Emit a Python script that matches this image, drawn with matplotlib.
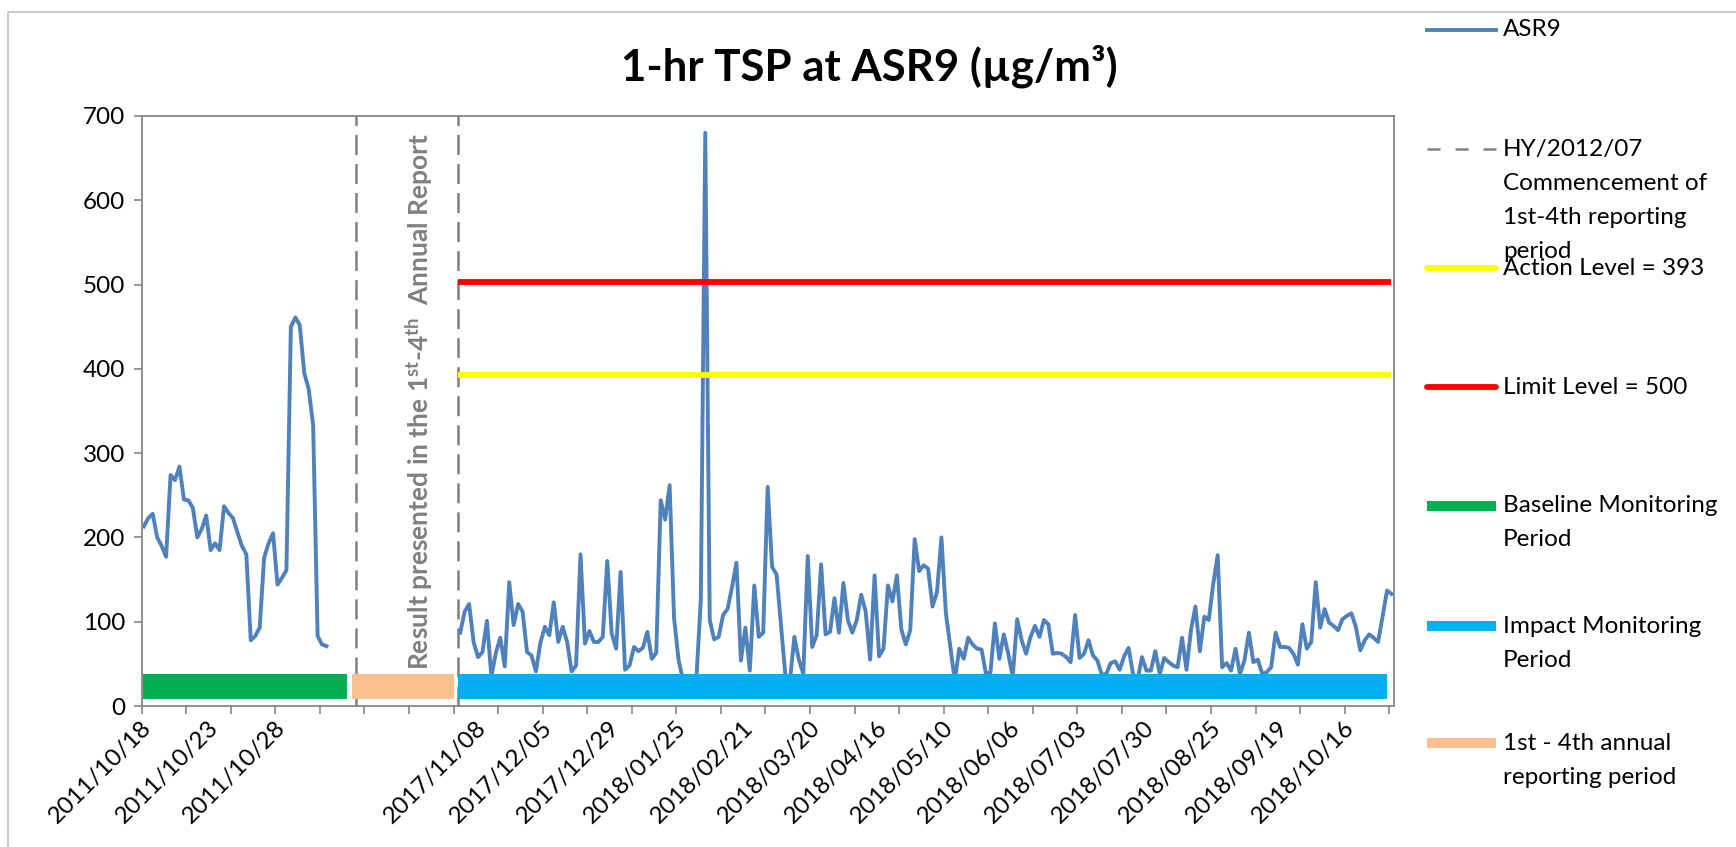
import matplotlib
matplotlib.use('Agg')
import matplotlib.pyplot as plt
from matplotlib.lines import Line2D

plt.rcParams['font.family'] = ['Lato', 'DejaVu Sans']
plt.rcParams['mathtext.fontset'] = 'custom'
plt.rcParams['mathtext.rm'] = 'Lato'
plt.rcParams['mathtext.bf'] = 'Lato:bold'
plt.rcParams['mathtext.it'] = 'Lato:italic'
plt.rcParams['lines.scale_dashes'] = False

# ---------------- data ----------------
baseline_values = [213, 223, 228, 200, 190, 177, 274, 268, 284, 245,
                   244, 235, 200, 210, 226, 185, 193, 185, 237, 229,
                   223, 206, 190, 180, 78, 83, 93, 176, 193, 205,
                   144, 152, 161, 450, 461, 452, 395, 376, 333, 83,
                   73, 71]
baseline_start = 0

impact_values = [87, 112, 121, 76, 58, 64, 101, 35, 63, 81,
                 47, 147, 96, 121, 112, 64, 60, 41, 75, 94,
                 84, 123, 76, 94, 76, 41, 48, 180, 74, 89,
                 76, 76, 82, 172, 86, 68, 159, 43, 48, 70,
                 65, 69, 88, 56, 63, 244, 221, 262, 104, 55,
                 30, 25, 28, 32, 126, 680, 102, 79, 82, 108,
                 115, 141, 170, 54, 93, 42, 143, 82, 87, 260,
                 165, 156, 95, 35, 30, 82, 55, 38, 178, 70,
                 84, 168, 85, 88, 128, 87, 146, 102, 87, 102,
                 132, 112, 55, 155, 59, 68, 143, 124, 155, 91,
                 73, 90, 198, 160, 167, 163, 118, 135, 200, 110,
                 70, 30, 68, 56, 81, 73, 68, 67, 38, 40,
                 98, 56, 85, 62, 35, 103, 78, 62, 82, 95,
                 82, 102, 97, 62, 63, 62, 58, 52, 108, 57,
                 62, 78, 60, 54, 37, 38, 51, 53, 43, 59,
                 69, 38, 30, 58, 42, 42, 65, 38, 57, 52,
                 48, 46, 81, 43, 90, 118, 65, 106, 102, 145,
                 179, 46, 51, 42, 68, 38, 54, 87, 52, 55,
                 38, 40, 46, 87, 70, 70, 69, 62, 49, 97,
                 68, 76, 147, 93, 115, 99, 95, 90, 103, 107,
                 110, 94, 66, 78, 85, 81, 76, 106, 137, 133]
impact_start = 71
n_categories = 281

tick_labels = ["2011/10/18", "2011/10/23", "2011/10/28", "", "",
               "2017/11/08", "2017/12/05", "2017/12/29", "2018/01/25",
               "2018/02/21", "2018/03/20", "2018/04/16", "2018/05/10",
               "2018/06/06", "2018/07/03", "2018/07/30", "2018/08/25",
               "2018/09/19", "2018/10/16"]
label_step = 15
tick_step = 10

action_level = 393
limit_level = 503
level_start = 70.6
level_end = 280.0

divider_positions = [47.6, 70.6]

period_names = ["Baseline Monitoring\nPeriod", "1st - 4th annual\nreporting period",
                "Impact Monitoring\nPeriod"]
period_start = [-0.1, 46.7, 70.6]
period_end = [45.6, 69.6, 278.9]
period_colors = ["#00b050", "#fac090", "#00b0f0"]
period_low, period_high = 8, 38

legend_labels = ["ASR9",
                 "HY/2012/07\nCommencement of\n1st-4th reporting\nperiod",
                 "Action Level = 393",
                 "Limit Level = 500",
                 "Baseline Monitoring\nPeriod",
                 "Impact Monitoring\nPeriod",
                 "1st - 4th annual\nreporting period"]

# ---------------- figure ----------------
W, H = 1736, 847
fig = plt.figure(figsize=(W / 100, H / 100), dpi=100)
x0, x1, ytop, ybot = 141.6, 1393.7, 116, 706
ax = fig.add_axes([x0 / W, (H - ybot) / H, (x1 - x0) / W, (ybot - ytop) / H])
ax.set_xlim(-0.5, n_categories - 0.5)
ax.set_ylim(0, 700)

line_color = "#4f81bd"
ax.plot(range(baseline_start, baseline_start + len(baseline_values)), baseline_values,
        color=line_color, lw=2.8, solid_joinstyle='round', zorder=2)
ax.plot(range(impact_start, impact_start + len(impact_values)), impact_values,
        color=line_color, lw=2.8, solid_joinstyle='round', zorder=2)

for xd in divider_positions:
    ax.axvline(xd, color="#808080", lw=1.8, dashes=(14.4, 6.5), zorder=1)

ax.hlines(action_level, level_start, level_end, color="#ffff00", lw=4.2, zorder=3)
ax.hlines(limit_level, level_start, level_end, color="#ff0000", lw=4.2, zorder=3)

for s, e, c in zip(period_start, period_end, period_colors):
    ax.broken_barh([(s, e - s)], (period_low, period_high - period_low),
                   facecolor=c, edgecolor='none', zorder=4)

ax.text(61.9, 43, r"Result presented in the 1$^{\mathbf{st}}$-4$^{\mathbf{th}}$  Annual Report",
        rotation=90, rotation_mode='anchor', ha='left', va='center',
        color="#808080", fontsize=19, fontweight='bold', zorder=5)

# axes styling
fs = 17.5
spine_c = "#868686"
for sp in ax.spines.values():
    sp.set_color(spine_c)
    sp.set_linewidth(1.3)
ax.set_yticks(range(0, 701, 100))
ax.tick_params(axis='y', direction='out', length=5.8, width=1.2, color=spine_c,
               labelsize=fs, pad=6)
ax.set_xticks([-0.5 + tick_step * k for k in range(n_categories // tick_step + 1)])
ax.set_xticklabels([])
ax.tick_params(axis='x', direction='out', length=5.8, width=1.2, color=spine_c)
for i, lab in enumerate(tick_labels):
    ax.annotate(lab, xy=(i * label_step, 0), xycoords=ax.get_xaxis_transform(),
                xytext=(-3, -11), textcoords='offset pixels', rotation=45,
                rotation_mode='anchor', ha='right', va='top', fontsize=fs)

# title
fig.text(869 / W, 1 - 66 / H, "1-hr TSP at ASR9 (µg/m³)", ha='center', va='center',
         fontsize=31.5, fontweight='bold')

# legend (manual)
handle_styles = [
    dict(color=line_color, lw=2.8),
    dict(color="#808080", lw=1.8, dashes=(9.4, 10.8)),
    dict(color="#ffff00", lw=4.2, solid_capstyle='round'),
    dict(color="#ff0000", lw=4.2, solid_capstyle='round'),
    dict(color="#00b050", lw=7.2, solid_capstyle='butt'),
    dict(color="#00b0f0", lw=7.2, solid_capstyle='butt'),
    dict(color="#fac090", lw=7.2, solid_capstyle='butt'),
]
legend_y = [30, 149, 268, 387, 506, 626, 743]
hx0, hx1, tx = 1427, 1496, 1503
line_gap = 34
for lab, st, yy in zip(legend_labels, handle_styles, legend_y):
    fig.add_artist(Line2D([hx0 / W, hx1 / W], [1 - yy / H, 1 - yy / H],
                          transform=fig.transFigure, **st))
    for j, part in enumerate(lab.split("\n")):
        fig.text(tx / W, 1 - (yy + j * line_gap) / H, part, ha='left', va='center',
                 fontsize=fs)

# outer chart border
fig.add_artist(Line2D([8 / W, 8 / W, 1], [0, 1 - 12 / H, 1 - 12 / H],
                      transform=fig.transFigure, color="#bfbfbf", lw=1.2))

fig.savefig("out.png", dpi=100)
